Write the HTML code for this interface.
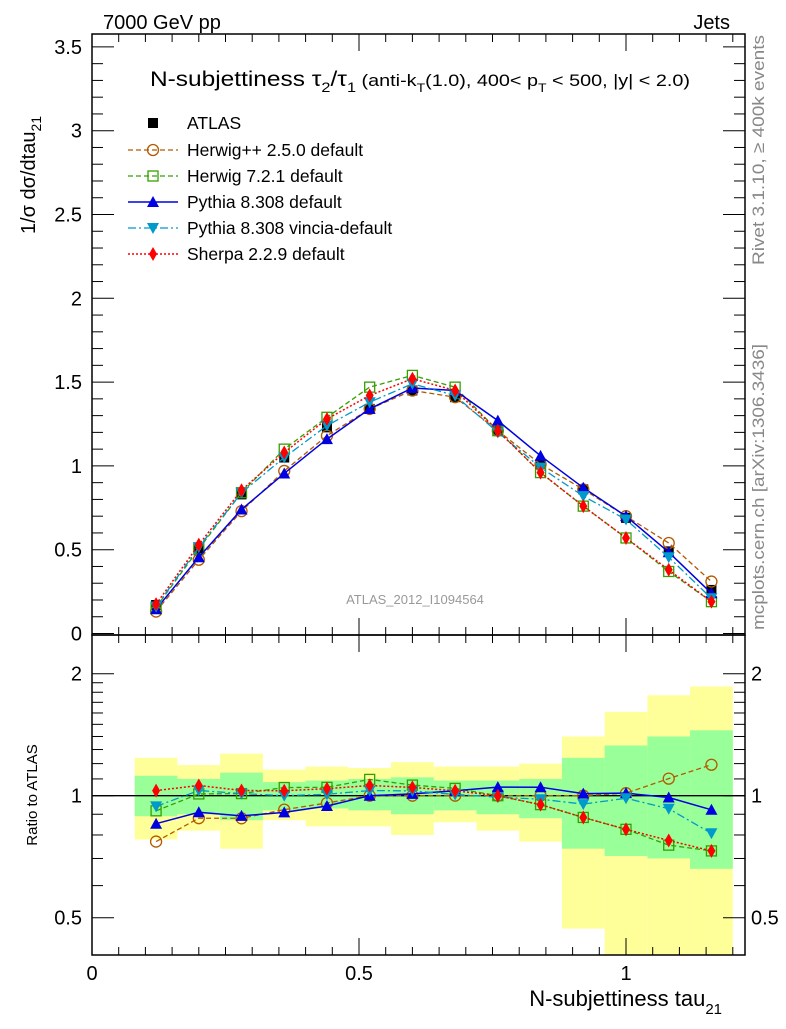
<!DOCTYPE html>
<html><head><meta charset="utf-8"><style>
body{margin:0;background:#fff}
svg text{font-family:"Liberation Sans",sans-serif}
</style></head><body>
<svg id="chart" width="786" height="1024" xmlns="http://www.w3.org/2000/svg">
<defs><clipPath id="clipR"><rect x="92" y="635" width="653" height="320"/></clipPath></defs>
<g id="bands" clip-path="url(#clipR)"></g>
<g id="marks"></g>
<g id="axes"></g>
<text x="103" y="29" font-size="20">7000 GeV pp</text>
<text x="730" y="29" font-size="20" text-anchor="end">Jets</text>
<text x="150" y="86" font-size="21" textLength="540" lengthAdjust="spacingAndGlyphs">N-subjettiness τ<tspan font-size="14" dy="6">2</tspan><tspan dy="-6">/τ</tspan><tspan font-size="14" dy="6">1</tspan><tspan dy="-6" font-size="17"> (anti-k</tspan><tspan font-size="12" dy="6">T</tspan><tspan dy="-6" font-size="17">(1.0), 400&lt; p</tspan><tspan font-size="12" dy="6">T</tspan><tspan dy="-6" font-size="17"> &lt; 500, |y| &lt; 2.0)</tspan></text>
<text transform="translate(35,175) rotate(-90)" font-size="20" text-anchor="middle">1/σ dσ/dtau<tspan font-size="14" dy="6">21</tspan></text>
<text transform="translate(37,795) rotate(-90)" font-size="15" text-anchor="middle">Ratio to ATLAS</text>
<text x="722" y="1006" font-size="22" text-anchor="end">N-subjettiness tau<tspan font-size="15" dy="8">21</tspan></text>
<text transform="translate(764,265) rotate(-90)" font-size="17" fill="#888" textLength="230" lengthAdjust="spacingAndGlyphs">Rivet 3.1.10, ≥ 400k events</text>
<text transform="translate(764,630) rotate(-90)" font-size="17" fill="#888" textLength="286" lengthAdjust="spacingAndGlyphs">mcplots.cern.ch [arXiv:1306.3436]</text>
<text x="415" y="604" font-size="13" fill="#999" text-anchor="middle">ATLAS_2012_I1094564</text>
<g id="legend"></g>
</svg>
<script>
const xCenters=[0.12,0.2,0.28,0.36,0.44,0.52,0.6,0.68,0.76,0.84,0.92,1.0,1.08,1.16];
const atlas=[0.17,0.50,0.83,1.05,1.23,1.34,1.45,1.41,1.21,1.01,0.86,0.69,0.49,0.26];
const herwigpp=[0.131,0.44,0.73,0.97,1.18,1.34,1.45,1.41,1.21,1.01,0.86,0.70,0.54,0.31];
const herwig7=[0.156,0.505,0.84,1.10,1.29,1.47,1.54,1.47,1.21,0.96,0.76,0.57,0.37,0.19];
const pythia=[0.145,0.455,0.74,0.955,1.16,1.34,1.465,1.45,1.27,1.06,0.87,0.70,0.485,0.24];
const vincia=[0.16,0.515,0.84,1.05,1.24,1.38,1.49,1.42,1.20,0.99,0.82,0.68,0.455,0.21];
const sherpa=[0.175,0.53,0.855,1.08,1.28,1.42,1.52,1.45,1.21,0.96,0.76,0.57,0.38,0.19];
const greenLo=[0.89,0.90,0.87,0.92,0.93,0.92,0.90,0.92,0.90,0.88,0.74,0.71,0.70,0.66];
const greenHi=[1.12,1.10,1.14,1.08,1.09,1.10,1.11,1.09,1.09,1.10,1.24,1.33,1.40,1.45];
const yellowLo=[0.78,0.82,0.74,0.87,0.84,0.84,0.80,0.86,0.82,0.77,0.47,0.30,0.30,0.30];
const yellowHi=[1.24,1.19,1.27,1.16,1.18,1.17,1.21,1.18,1.18,1.20,1.40,1.61,1.77,1.86];
const binW=0.08;
const xTicks=[0,0.5,1];
const yTicksMain=[0,0.5,1,1.5,2,2.5,3,3.5];
const yTicksRatio=[0.5,1,2];

const NS='http://www.w3.org/2000/svg';
const X=v=>92+v*534;
const Y=v=>633.5-v*167.6;
const R=r=>795.7-176*Math.log(r);
function mk(tag,attrs,parent){const e=document.createElementNS(NS,tag);for(const k in attrs)e.setAttribute(k,attrs[k]);document.getElementById(parent).appendChild(e);return e;}

for(let i=0;i<xCenters.length;i++){
 const x0=X(xCenters[i]-binW/2),w=binW*534;
 const y=mk('rect',{x:x0,y:R(yellowHi[i]),width:w,height:R(yellowLo[i])-R(yellowHi[i]),fill:'#ffff99'},'bands');
 
 
}
for(let i=0;i<xCenters.length;i++){
 const x0=X(xCenters[i]-binW/2),w=binW*534;
 const g=mk('rect',{x:x0,y:R(greenHi[i]),width:w,height:R(greenLo[i])-R(greenHi[i]),fill:'#99ff99'},'bands');
 
 
}
const one=mk('line',{x1:92,x2:745,y1:R(1),y2:R(1),stroke:'#000','stroke-width':1.3},'bands');



function marker(type,color,x,y,parent){
 let e;
 if(type==='sq')e=mk('rect',{x:x-5,y:y-5,width:10,height:10,fill:color},parent);
 else if(type==='osq')e=mk('rect',{x:x-5,y:y-5,width:10,height:10,fill:'none',stroke:color,'stroke-width':1.3},parent);
 else if(type==='oc')e=mk('circle',{cx:x,cy:y,r:5.5,fill:'none',stroke:color,'stroke-width':1.3},parent);
 else if(type==='tu')e=mk('polygon',{points:`${x},${y-6} ${x-6},${y+5} ${x+6},${y+5}`,fill:color},parent);
 else if(type==='td')e=mk('polygon',{points:`${x},${y+6} ${x-6},${y-5} ${x+6},${y-5}`,fill:color},parent);
 else e=mk('polygon',{points:`${x},${y-7} ${x-4},${y} ${x},${y+7} ${x+4},${y}`,fill:color},parent);
 return e;
}
const series=[
 {name:'herwigpp',vals:herwigpp,color:'#b35900',type:'oc',dash:'5,3',w:1.3},
 {name:'herwig7',vals:herwig7,color:'#33a000',type:'osq',dash:'5,3',w:1.3},
 {name:'pythia',vals:pythia,color:'#0000e0',type:'tu',dash:'',w:1.5},
 {name:'vincia',vals:vincia,color:'#0099cc',type:'td',dash:'8,3,2,3',w:1.3},
 {name:'sherpa',vals:sherpa,color:'#ff0000',type:'dm',dash:'2,2',w:1.5}
];
atlas.forEach((v,i)=>{const m=marker('sq','#000',X(xCenters[i]),Y(v),'marks');
 
 });
series.forEach(s=>{
 const pm=xCenters.map((x,i)=>X(x)+','+Y(s.vals[i])).join(' ');
 const l=mk('polyline',{points:pm,fill:'none',stroke:s.color,'stroke-width':s.w,'stroke-dasharray':s.dash},'marks');
 
 
 const pr=xCenters.map((x,i)=>X(x)+','+R(s.vals[i]/atlas[i])).join(' ');
 const lr=mk('polyline',{points:pr,fill:'none',stroke:s.color,'stroke-width':s.w,'stroke-dasharray':s.dash},'marks');
 
 
 s.vals.forEach((v,i)=>{
  const m=marker(s.type,s.color,X(xCenters[i]),Y(v),'marks');
  
  
  const m2=marker(s.type,s.color,X(xCenters[i]),R(v/atlas[i]),'marks');
  
  
 });
});
const legNames=['Herwig++ 2.5.0 default','Herwig 7.2.1 default','Pythia 8.308 default','Pythia 8.308 vincia-default','Sherpa 2.2.9 default'];
{const m=marker('sq','#000',153,123,'legend');
 const t=mk('text',{x:187,y:129,'font-size':17.5},'legend');t.textContent='ATLAS';
 }
series.forEach((s,i)=>{
 const y=150+i*26;
 const l=mk('line',{x1:128,x2:178,y1:y,y2:y,stroke:s.color,'stroke-width':s.w,'stroke-dasharray':s.dash},'legend');
 
 
 const m=marker(s.type,s.color,153,y,'legend');
 
 
 const t=mk('text',{x:187,y:y+6,'font-size':17.5},'legend');t.textContent=legNames[i];
 
 
});
[[34,635],[635,955]].forEach(([t,b],k)=>{
 const r=mk('rect',{x:92,y:t,width:653,height:b-t,fill:'none',stroke:'#000','stroke-width':1.5},'axes');
 
 
});
function tick(x1,y1,x2,y2){mk('line',{x1,y1,x2,y2,stroke:'#000','stroke-width':1},'axes');}
for(let v=0;v<=1.24;v+=0.05){
 const vv=Math.round(v*100)/100,x=X(vv),maj=Math.abs(vv*2-Math.round(vv*2))<1e-6,len=maj?17:8;
 if(x>745)break;
 tick(x,635,x,635-len);tick(x,34,x,34+len);tick(x,955,x,955-len);tick(x,635,x,635+len);
}
xTicks.forEach(v=>{const t=mk('text',{x:X(v),y:980,'font-size':20,'text-anchor':'middle'},'axes');t.textContent=String(v);
 });
for(let i=0;i<=36;i++){const v=i*0.1,y=Y(v);if(y<34)break;const maj=i%5===0,len=maj?22:11;
 tick(92,y,92+len,y);tick(745,y,745-len,y);}
yTicksMain.forEach(v=>{const t=mk('text',{x:82,y:Y(v)+7,'font-size':20,'text-anchor':'end'},'axes');t.textContent=String(v);
 });
[0.5,0.6,0.7,0.8,0.9,1,1.1,1.2,1.3,1.4,1.5,1.6,1.7,1.8,1.9,2].forEach(v=>{const y=R(v);const maj=yTicksRatio.includes(v),len=maj?22:11;
 tick(92,y,92+len,y);tick(745,y,745-len,y);});
yTicksRatio.forEach(v=>{
 const t=mk('text',{x:82,y:R(v)+7,'font-size':20,'text-anchor':'end'},'axes');t.textContent=String(v);
 
 const t2=mk('text',{x:751,y:R(v)+7,'font-size':20},'axes');t2.textContent=String(v);
 
});
</script>
</body></html>
